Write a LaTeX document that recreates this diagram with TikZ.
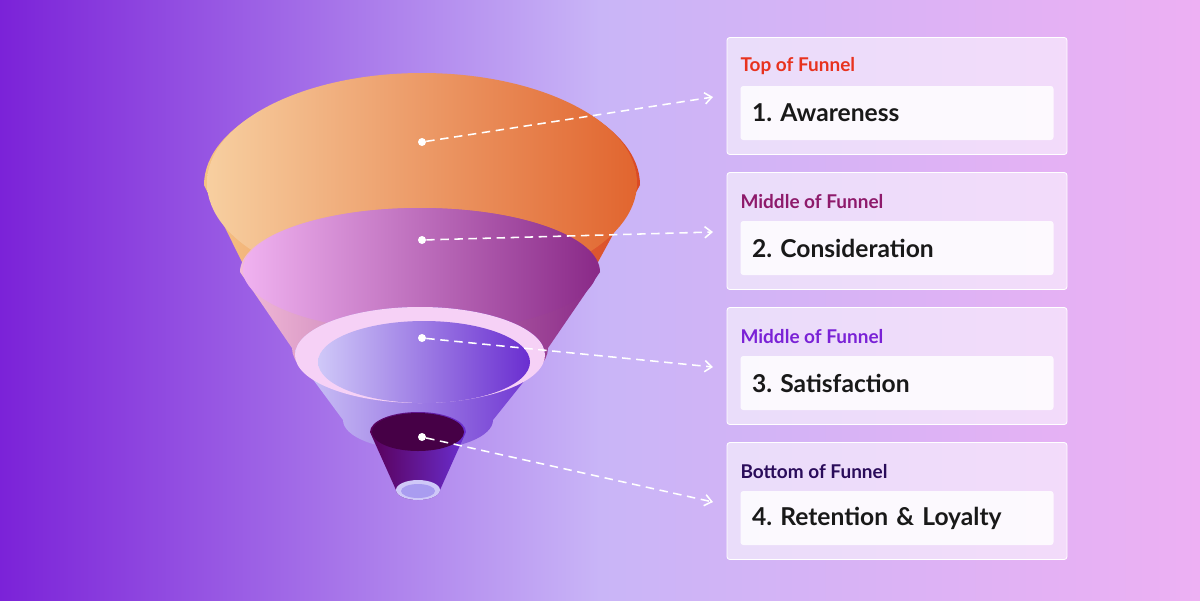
\documentclass[tikz,border=0pt]{standalone}
\usepackage{fontspec}
\setmainfont{Lato}
\frenchspacing
\usetikzlibrary{arrows.meta,positioning}
\definecolor{bgL}{HTML}{7B22D8}
\definecolor{bgM}{HTML}{C9B5F7}
\definecolor{bgR}{HTML}{EDB0F3}
\definecolor{topC}{HTML}{E8321E}
\definecolor{midC}{HTML}{8E1A6B}
\definecolor{satC}{HTML}{7A22D6}
\definecolor{botC}{HTML}{2A0C5A}
\definecolor{orL}{HTML}{F7CFA0}
\definecolor{orM}{HTML}{F2A445}
\definecolor{orR}{HTML}{DA4A25}
\definecolor{pkL}{HTML}{F0B2F0}
\definecolor{pkM}{HTML}{D68AD6}
\definecolor{pkR}{HTML}{8A2A88}
\definecolor{lvL}{HTML}{CFC8F8}
\definecolor{lvM}{HTML}{A99CF0}
\definecolor{lvR}{HTML}{6A2ED0}
\tikzset{
  stage/.style={draw=white, line width=0.6pt, fill=white, fill opacity=0.55, text opacity=1,
    minimum width=340*0.025cm, minimum height=117*0.025cm, rounded corners=2pt},
  inner/.style={fill=white, fill opacity=0.85, text opacity=1, minimum width=313*0.025cm,
    minimum height=54*0.025cm, rounded corners=2pt, text width=290*0.025cm,
    font=\fontsize{17.5}{20}\selectfont\bfseries, text=black!90, align=left},
  head/.style={font=\fontsize{13.5}{16}\selectfont\bfseries, anchor=west},
  dot/.style={circle, fill=white, inner sep=0pt, minimum size=8*0.025cm},
  link/.style={white, dashed, dash pattern=on 6pt off 4pt, line width=1.1pt, -{Straight Barb[length=5pt,width=8pt]}}
}
% layer: cx1 cy1 rx1 ry1 cx2 cy2 rx2 ry2
\newcommand{\layerside}[8]{(#1-#3,#2) -- (#5-#7,#6) arc[start angle=180,end angle=0,x radius=#7,y radius=#8] -- (#1+#3,#2) arc[start angle=0,end angle=-180,x radius=#3,y radius=#4] -- cycle}
\begin{document}
\begin{tikzpicture}[x=0.025cm,y=-0.025cm]
\useasboundingbox (0,0) rectangle (1200,600);
\shade[left color=bgL, right color=bgR, middle color=bgM] (0,0) rectangle (1200,600);

% orange
\shade[left color=orL!70!orM, middle color=orM, right color=orR] \layerside{422}{185}{218}{110}{420}{262}{178}{72};
\shade[left color=orL, middle color=orM, right color=orR!70!orM] (422,183) ellipse[x radius=215, y radius=110];
% pink
\shade[left color=pkL!70!orL, middle color=pkM, right color=pkR] \layerside{420}{272}{180}{64}{420}{348}{128}{52};
\shade[left color=pkL, middle color=pkM, right color=pkR] (420,270) ellipse[x radius=177, y radius=62];
% lavender
\shade[left color=lvL, middle color=lvM, right color=lvR] \layerside{420}{355}{125}{48}{418}{420}{75}{30};
\fill[pkL!60!white] (420,355) ellipse[x radius=125, y radius=48];
\shade[left color=lvL, middle color=lvM, right color=lvR] (424,362) ellipse[x radius=106, y radius=41];
% dark purple
\shade[left color=violet!70!black, middle color=violet!80!black, right color=lvR] \layerside{418}{432}{48}{20}{418}{490}{22}{10};
\fill[violet!55!black] (418,432) ellipse[x radius=46, y radius=19];
\fill[lvL] (418,490) ellipse[x radius=22, y radius=10];
\fill[lvM] (418,491) ellipse[x radius=17, y radius=7];

% dots
\node[dot] (d1) at (422,142) {};
\node[dot] (d2) at (422,240) {};
\node[dot] (d3) at (422,338) {};
\node[dot] (d4) at (422,437) {};

% stage boxes
\node[stage] (s1) at (897,96) {};
\node[stage] (s2) at (897,231) {};
\node[stage] (s3) at (897,366) {};
\node[stage] (s4) at (897,501) {};
\foreach \n/\h/\c/\t in {1/Top of Funnel/topC/1. Awareness, 2/Middle of Funnel/midC/2. Consideration,
                         3/Middle of Funnel/satC/3. Satisfaction, 4/Bottom of Funnel/botC/4. Retention \& Loyalty}{
  \node[head, text=\c] (h\n) at ([xshift=9*0.025cm, yshift=-29*0.025cm]s\n.north west) {\h};
  \node[inner] (b\n) at ([yshift=-17*0.025cm]s\n.center) {\t};
}

% arrows
\coordinate (e1) at (713,97);
\coordinate (e2) at (713,232);
\coordinate (e3) at (713,367);
\coordinate (e4) at (713,502);
\foreach \i in {1,...,4} \draw[link] (d\i) -- (e\i);
\end{tikzpicture}
\end{document}
